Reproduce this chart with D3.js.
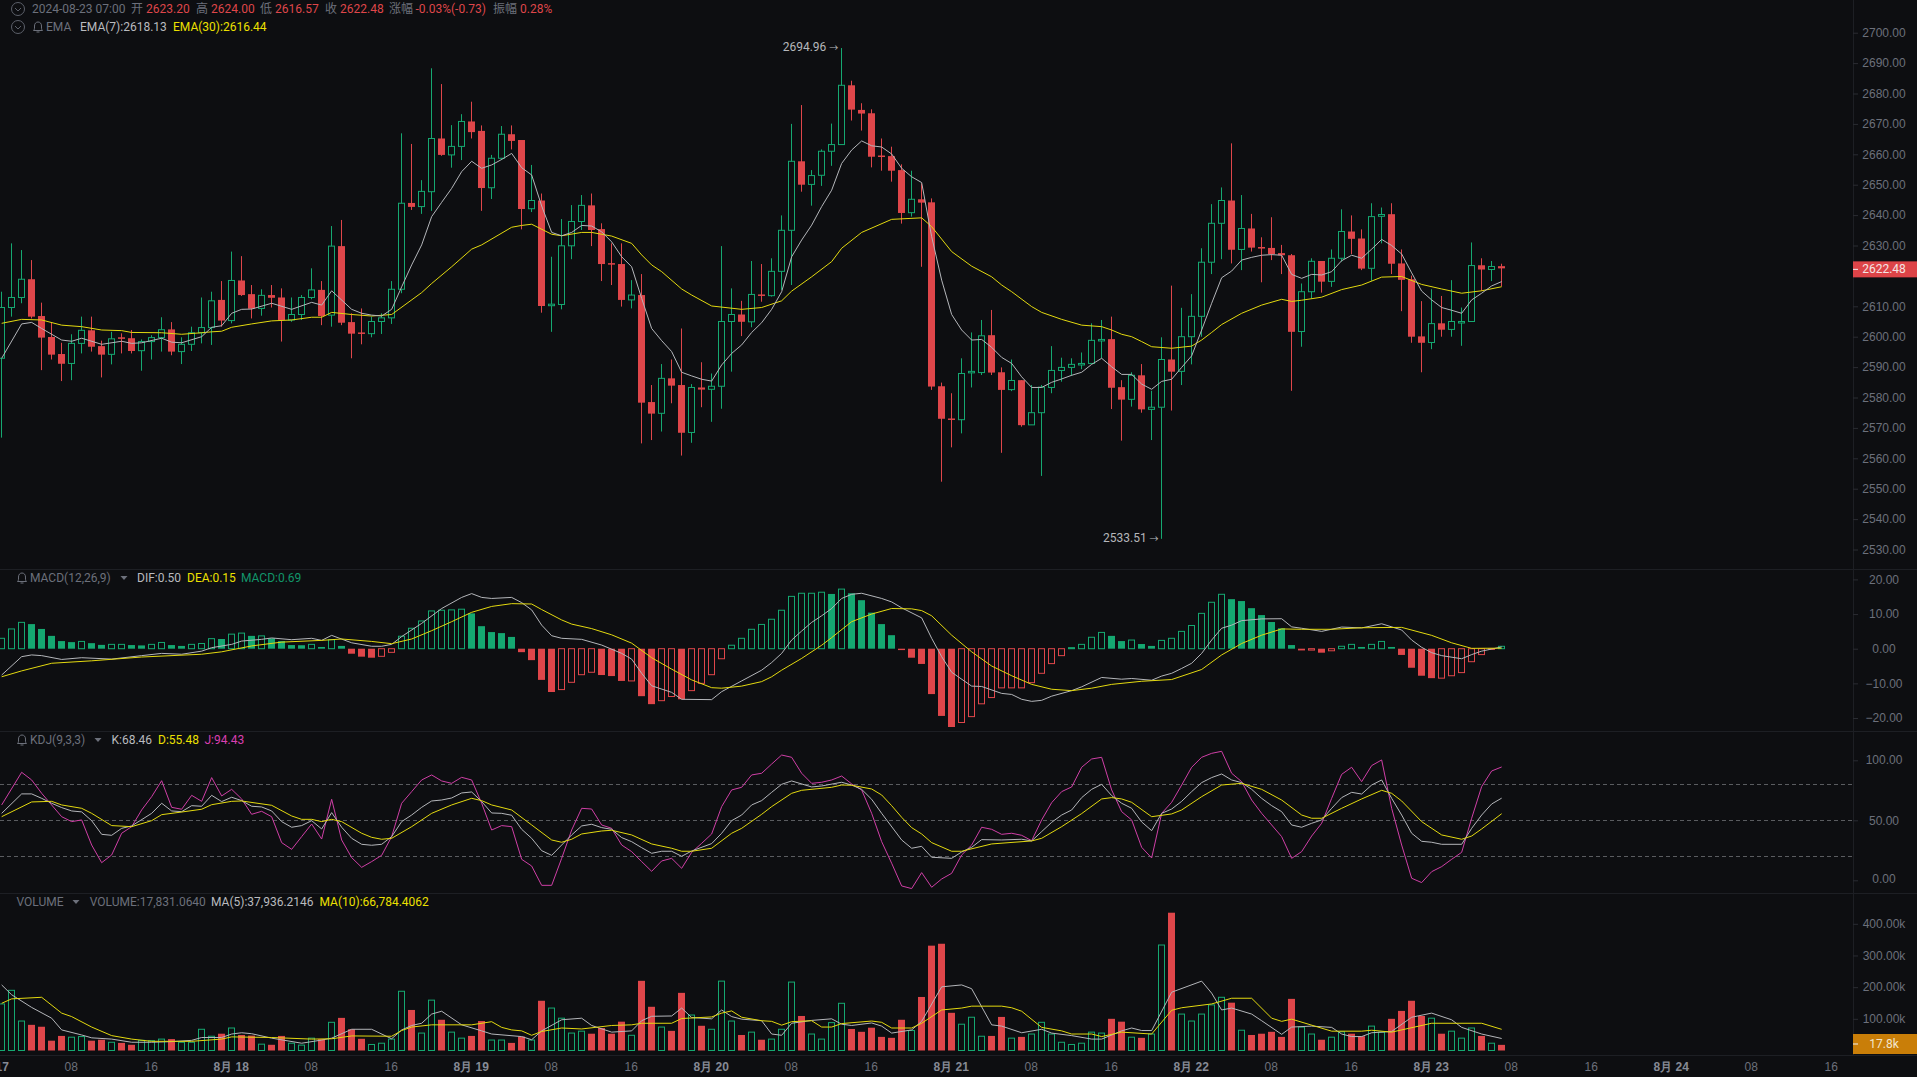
<!DOCTYPE html>
<html>
<head>
<meta charset="utf-8">
<script src="https://cdn.jsdelivr.net/npm/d3@7"></script>
<style>
  html, body { margin: 0; padding: 0; background: #0d0e11; overflow: hidden; }
  svg { display: block; font-family: Roboto, "Noto Sans CJK SC", sans-serif; font-size: 12px; }
  .axis path { display: none; }
  .axis line { stroke: #2a2c32; }
  .axis text { fill: #6c707b; font-size: 12px; }
</style>
</head>
<body>
<svg id="chart" width="1917" height="1077"></svg>
<script>
// hourly candles, index 0 = 2024-08-17 01:00, index 150 = 2024-08-23 07:00
const opens = [2592.9,2609.6,2612.9,2618.9,2606.8,2599.9,2594.3,2591.2,2597.8,2602.1,2596.9,2594.2,2599.8,2599.5,2595.4,2598.4,2599.7,2602.4,2595.1,2597.5,2601.3,2603.0,2612.1,2605.3,2618.5,2614.0,2609.3,2613.7,2612.9,2605.5,2607.3,2612.9,2615.4,2607.1,2629.8,2604.8,2601.4,2601.0,2605.0,2606.2,2615.6,2644.0,2642.8,2647.7,2665.2,2659.8,2662.6,2670.8,2667.7,2649.0,2658.7,2666.6,2664.7,2642.1,2644.8,2610.2,2610.6,2629.9,2637.9,2643.2,2635.4,2624.2,2623.9,2612.1,2613.7,2578.5,2574.8,2586.3,2584.1,2568.5,2583.3,2582.7,2583.7,2605.0,2607.3,2604.9,2613.9,2613.5,2621.5,2635.0,2657.7,2650.1,2653.1,2661.0,2663.2,2682.7,2674.6,2673.5,2659.6,2659.4,2654.8,2640.8,2645.2,2644.2,2583.7,2573.1,2572.7,2588.3,2588.2,2600.5,2588.3,2582.6,2585.7,2571.0,2575.0,2583.3,2588.9,2589.9,2590.8,2591.2,2598.7,2599.2,2583.4,2579.4,2587.3,2576.1,2576.8,2592.5,2588.6,2600.0,2606.7,2624.5,2637.3,2644.8,2628.7,2635.6,2629.5,2629.2,2627.5,2626.8,2601.7,2614.8,2624.9,2618.2,2625.8,2634.6,2632.3,2622.5,2639.6,2640.3,2624.1,2618.9,2600.1,2598.1,2604.4,2602.4,2604.6,2605.0,2623.5,2622.1,2623.20];
const highs = [2614.8,2630.7,2628.5,2625.2,2611.2,2604.6,2598.0,2600.8,2606.6,2606.6,2598.7,2601.6,2601.1,2602.2,2599.1,2600.5,2606.4,2604.8,2599.8,2603.3,2612.9,2614.8,2618.3,2628.0,2626.5,2617.0,2615.6,2617.0,2615.9,2612.9,2613.7,2622.5,2618.3,2636.4,2638.4,2607.7,2609.3,2606.6,2607.7,2618.3,2666.9,2663.4,2651.5,2688.3,2683.1,2669.6,2673.2,2677.3,2669.5,2659.8,2669.3,2669.5,2664.7,2656.5,2647.1,2626.3,2638.7,2643.3,2646.6,2647.1,2637.3,2630.7,2630.7,2618.6,2620.6,2584.1,2591.0,2592.5,2602.7,2584.4,2591.6,2587.9,2629.8,2615.9,2611.8,2624.9,2623.9,2625.8,2639.9,2670.0,2676.2,2654.8,2661.6,2670.1,2694.96,2684.2,2676.8,2674.8,2665.2,2662.5,2656.7,2654.6,2650.4,2645.5,2584.9,2581.4,2592.9,2601.4,2605.5,2608.8,2589.9,2592.5,2585.7,2584.1,2584.1,2596.9,2593.1,2592.9,2594.8,2604.4,2605.5,2606.6,2585.7,2588.3,2591.0,2582.2,2599.8,2616.8,2609.5,2614.0,2629.1,2643.6,2649.1,2663.6,2646.6,2640.4,2632.7,2639.3,2630.2,2627.2,2617.5,2625.8,2624.9,2628.7,2641.9,2639.9,2635.3,2643.9,2642.5,2643.9,2628.7,2620.1,2611.7,2615.6,2613.4,2618.6,2609.6,2631.0,2625.8,2624.9,2624.00];
const lows = [2566.8,2606.6,2611.0,2606.0,2589.0,2592.5,2585.4,2585.7,2594.5,2595.1,2586.6,2590.9,2594.5,2594.5,2588.8,2592.5,2595.1,2593.9,2591.0,2595.3,2597.8,2597.3,2603.3,2604.4,2613.4,2606.0,2606.9,2609.6,2598.4,2604.9,2605.5,2612.3,2603.8,2603.3,2603.8,2592.9,2597.5,2599.8,2600.9,2604.2,2614.3,2641.7,2640.4,2641.4,2659.5,2655.6,2658.1,2665.2,2641.4,2645.3,2658.1,2661.6,2635.3,2641.0,2607.9,2601.6,2609.0,2625.5,2635.1,2629.8,2618.3,2617.0,2609.9,2609.3,2564.9,2566.0,2568.8,2578.1,2560.9,2565.1,2576.8,2572.0,2576.3,2588.5,2600.2,2603.1,2611.5,2613.2,2615.4,2617.0,2647.7,2643.1,2649.6,2656.2,2663.2,2671.1,2667.8,2655.7,2654.6,2651.0,2637.2,2639.5,2623.0,2582.5,2552.3,2563.6,2568.2,2583.3,2587.4,2587.4,2561.8,2582.1,2570.4,2571.0,2554.2,2581.4,2585.2,2587.1,2589.3,2591.2,2592.9,2576.2,2565.8,2577.0,2575.0,2566.0,2533.51,2575.7,2584.1,2590.9,2600.0,2620.6,2625.5,2624.1,2621.9,2628.0,2617.9,2625.2,2620.6,2582.2,2596.7,2612.6,2614.5,2616.4,2624.7,2627.2,2621.9,2618.4,2630.7,2620.6,2608.4,2598.0,2588.3,2595.9,2600.0,2600.0,2597.0,2605.0,2615.1,2618.3,2616.57];
const closes = [2609.6,2612.9,2618.9,2606.6,2599.7,2594.1,2591.1,2597.8,2602.1,2596.7,2594.1,2599.3,2599.3,2595.3,2598.4,2599.7,2602.3,2595.1,2597.5,2601.3,2603.0,2611.8,2605.3,2618.5,2613.7,2609.2,2613.6,2612.8,2605.5,2607.3,2612.9,2615.4,2606.8,2629.8,2604.6,2601.0,2601.0,2605.0,2606.2,2615.6,2643.9,2642.7,2647.8,2665.2,2659.8,2662.6,2670.8,2667.3,2648.9,2658.7,2666.6,2664.4,2642.0,2644.8,2610.1,2610.7,2629.9,2637.9,2643.2,2635.1,2623.9,2623.7,2612.1,2613.7,2578.3,2574.7,2586.3,2583.9,2568.4,2583.3,2582.6,2583.7,2605.0,2607.3,2604.9,2613.9,2613.5,2621.5,2635.0,2657.7,2650.0,2653.0,2661.0,2663.2,2682.7,2674.7,2673.4,2659.2,2659.2,2654.6,2640.7,2645.2,2644.1,2583.6,2573.0,2572.7,2587.9,2588.6,2600.3,2588.2,2582.5,2585.6,2570.9,2575.0,2583.4,2588.9,2589.9,2590.9,2591.2,2598.8,2599.1,2583.2,2579.3,2587.3,2576.1,2576.8,2592.5,2588.5,2600.0,2606.7,2624.5,2637.3,2644.8,2628.6,2635.6,2629.3,2629.0,2627.2,2626.8,2601.6,2614.8,2624.8,2618.1,2625.8,2634.6,2632.2,2622.4,2639.5,2640.2,2624.0,2618.7,2600.0,2598.0,2604.3,2602.3,2605.0,2605.0,2623.4,2622.1,2623.1,2622.48];
const volumes = [147,190,93,81,75,31,46,42,44,31,34,26,24,18,32,31,36,36,26,26,67,45,53,71,49,47,20,18,46,23,17,39,36,89,103,67,37,19,23,36,187,128,55,159,97,58,39,46,93,33,33,24,44,33,157,134,102,55,61,53,71,53,91,48,220,138,74,62,182,112,78,67,219,93,49,58,34,36,67,216,109,52,36,88,149,68,59,72,43,40,97,63,169,331,337,119,83,105,45,46,106,39,43,52,89,52,26,19,23,58,55,100,91,42,40,52,333,435,115,93,115,144,168,151,64,49,53,59,43,163,74,52,34,42,59,53,45,77,58,100,125,157,109,102,53,61,39,71,46,23,17.8];
const macdBars = [3.0,5.7,7.6,7.1,5.7,3.7,2.2,1.9,2.1,1.6,1.1,1.25,1.25,1.05,0.95,1.25,1.8,1.05,0.8,1.25,1.5,2.9,2.8,4.2,4.5,3.7,3.7,3.0,2.2,1.05,1.0,1.25,0.5,2.6,0.8,-1.45,-2.3,-2.6,-2.2,-1.05,3.6,5.9,8.0,10.9,11.1,11.2,11.4,10.2,6.5,4.8,4.5,3.4,-1.0,-3.3,-9.0,-12.5,-11.8,-9.7,-7.5,-6.8,-7.6,-7.9,-9.3,-9.3,-13.7,-16,-15,-13.8,-14.6,-12.1,-10,-7.5,-2.9,1.0,3.0,5.6,7.0,8.5,11.1,15.1,16,16,16.3,15.8,17.2,16,14,10.4,7.1,3.9,-0.4,-2.6,-4.4,-13.1,-19.4,-22.6,-21.3,-19.6,-15.9,-14.1,-11.3,-11.3,-11.3,-9.8,-7.1,-4.3,-2,0.3,1.25,3.3,4.7,3.7,2.2,2.5,1.35,0.8,2.4,3.0,5,6.7,10.2,13.4,15.7,14.3,13.75,11.7,9.7,7.7,5.9,1.05,-0.5,-0.4,-1.15,-0.6,0.7,1.25,0.5,1.25,2.1,0.5,-1.8,-5.5,-7.8,-8.5,-8.5,-7.8,-6.9,-3.75,-1.7,-0.2,0.69];

// line series, read at their vertices as [hour index, value]
const ema7 = [[0,2592.9],[2,2604.2],[3,2604.7],[4,2602.7],[6,2598.9],[7,2598.5],[8,2599.5],[10,2597.5],[12,2598.5],[13,2597.8],[14,2598],[16,2599.5],[17,2598.2],[18,2598],[20,2600],[21,2603.1],[22,2603.6],[23,2607.7],[24,2609],[25,2609.1],[27,2611],[29,2609],[31,2611.3],[32,2610.4],[33,2615.1],[35,2609],[36,2607.7],[37,2607.1],[38,2606.8],[39,2609],[40,2616.4],[41,2623.6],[42,2630.2],[43,2639.5],[44,2644.2],[45,2648.8],[46,2654.3],[47,2657.7],[48,2655.4],[49,2656.5],[50,2658.3],[51,2660.3],[52,2655.6],[53,2653.2],[54,2643],[55,2634.3],[56,2633.2],[57,2634.3],[58,2636.6],[59,2636.4],[60,2634.5],[61,2631.2],[62,2626.3],[63,2623],[64,2612.6],[65,2602.7],[66,2598.7],[67,2595.1],[68,2588.3],[69,2587.1],[70,2586],[71,2585.4],[72,2590.7],[73,2594.5],[74,2597.3],[75,2601.4],[76,2604.6],[77,2609],[78,2614.8],[79,2626.3],[80,2631.8],[81,2636.7],[82,2642.8],[83,2648.2],[84,2657],[85,2661.4],[86,2664.4],[87,2662.8],[88,2662.4],[89,2660.1],[90,2655.4],[91,2652.6],[92,2650.7],[93,2632.9],[94,2618.6],[95,2607.3],[96,2602.2],[97,2598.9],[98,2599.1],[99,2596.5],[100,2593.2],[101,2591.2],[102,2586.8],[103,2583.3],[104,2583.3],[105,2585],[106,2586.1],[107,2587.3],[108,2588.3],[109,2590.9],[110,2592.9],[111,2590.1],[112,2587.6],[113,2587.6],[114,2584.4],[115,2582.7],[116,2585.3],[117,2586],[118,2589.9],[119,2593.7],[120,2602.2],[121,2611],[122,2619.4],[123,2621.6],[124,2625.2],[125,2626.1],[126,2626.8],[127,2627],[128,2626.8],[129,2620.5],[130,2619.2],[131,2620.5],[132,2620.3],[133,2621.4],[134,2625],[135,2626.8],[136,2625.8],[137,2628.8],[138,2632],[139,2630],[140,2627.2],[141,2621],[142,2615],[143,2612.1],[144,2609.6],[145,2608.7],[146,2607.7],[147,2612.1],[148,2614.3],[149,2616.7],[150,2618.13]];
const ema30 = [[0,2604.4],[2,2605.7],[4,2605.5],[6,2603.8],[8,2603.3],[10,2602.2],[12,2602],[13,2601.4],[16,2601.3],[18,2600.8],[20,2601.3],[21,2601.6],[22,2601.8],[23,2603.1],[25,2604.2],[27,2605.2],[29,2605.5],[31,2606.4],[32,2606.4],[33,2608],[35,2607.3],[37,2606.8],[39,2607.3],[42,2614.5],[43,2617.5],[45,2623],[47,2628.8],[48,2630.2],[51,2636],[52,2636.6],[53,2637],[55,2633.7],[56,2633.2],[58,2634.3],[59,2634.3],[61,2633.1],[63,2630.7],[64,2626.9],[65,2623.6],[66,2621.4],[68,2615.7],[69,2613.7],[71,2610.1],[74,2609],[76,2609.6],[78,2611.8],[79,2615],[81,2619.7],[83,2624.7],[84,2629.1],[86,2634.3],[89,2638.6],[92,2639.1],[93,2636.2],[95,2628],[97,2623.2],[99,2619.7],[100,2617],[101,2614.8],[103,2609.9],[104,2608],[106,2605.7],[108,2603.8],[110,2603.3],[111,2602.2],[112,2600.8],[113,2600],[114,2598.4],[115,2596.7],[117,2596.2],[119,2596.9],[120,2598.9],[121,2601.4],[122,2604],[124,2607.7],[126,2610.4],[128,2612.3],[129,2611.6],[130,2612],[132,2613],[134,2615.5],[136,2617],[138,2619.6],[140,2619.8],[142,2617.2],[144,2615.7],[146,2614.3],[148,2615.1],[150,2616.44]];
const dif = [[0,-7.6],[2,-2.3],[3,-1.8],[4,-2],[6,-3.1],[8,-2.6],[11,-3],[14,-2],[16,-1.35],[18,-1.6],[20,-0.7],[21,0.3],[23,1.25],[24,2.2],[26,2.7],[27,3.1],[29,2.6],[31,3],[32,2.4],[33,3.85],[35,1.7],[37,0.7],[38,0.7],[39,1.25],[40,3.5],[42,7.3],[44,11.6],[46,14.8],[47,15.9],[48,14.8],[49,14.5],[51,14.8],[52,13.3],[53,11.2],[54,6.8],[55,3.75],[56,3],[58,2.7],[60,1.05],[62,-1.35],[63,-3],[64,-7.1],[65,-10.7],[67,-12.6],[68,-14.6],[71,-14.7],[72,-12.4],[74,-9.3],[76,-6.2],[77,-4],[78,-1.35],[79,2.5],[80,5.1],[81,7.6],[82,9.5],[83,11.6],[84,14.5],[85,15.7],[86,16],[88,14.5],[89,13.5],[90,11.8],[92,8.9],[93,3],[94,-2.3],[95,-6.8],[97,-10.8],[98,-10.9],[100,-12.9],[101,-13.2],[102,-14.6],[103,-15.2],[104,-14.9],[105,-13.7],[107,-12.1],[108,-11],[110,-8.3],[112,-8.8],[113,-8.6],[115,-9.1],[116,-7.9],[117,-7.1],[118,-5.7],[119,-4.2],[120,-1.35],[121,2.5],[122,5.9],[123,6.8],[124,8.1],[126,8.6],[128,8.65],[129,6.3],[130,5.9],[132,5],[134,6.25],[136,6],[138,7.2],[140,5.4],[141,2.5],[142,0.4],[143,-1.15],[144,-2],[146,-2.9],[147,-1.7],[148,-0.7],[149,-0.1],[150,0.5]];
const dea = [[0,-8.1],[2,-6.4],[5,-4.2],[9,-3.5],[14,-2.4],[20,-1.6],[22,-0.9],[25,0.8],[28,1.9],[32,2.4],[34,2.8],[37,2.1],[39,1.45],[41,2.8],[43,5.2],[45,7.8],[47,10.5],[49,12.2],[51,13],[53,12.9],[54,11.3],[56,8.3],[57,7.1],[59,5.8],[61,4],[63,1.6],[65,-2.6],[67,-5.9],[69,-9],[71,-11.25],[72,-11.4],[74,-10.8],[76,-9.5],[77,-8.1],[78,-6.2],[80,-2.8],[82,1],[83,3.2],[85,7.8],[87,10],[89,11.6],[91,11.5],[92,11],[93,9.5],[95,3.9],[97,-0.9],[99,-5],[101,-7.8],[103,-10.3],[105,-11.7],[107,-12.1],[109,-11.4],[111,-10.3],[114,-9.4],[117,-8.9],[120,-6],[122,-1.8],[124,1.5],[126,3.9],[128,5.7],[130,5.6],[133,5.6],[136,6.05],[140,6.15],[143,3.85],[145,1.7],[147,0.1],[150,0.15]];
const kLine = [[0,55.8],[2,72],[3,72],[4,68.3],[5,64.2],[6,60.6],[7,57.8],[8,57],[9,49.7],[10,38.3],[11,37.5],[12,43.3],[13,45.3],[15,55.8],[16,64.2],[17,57.8],[18,57.2],[19,62.2],[20,61.7],[21,70.8],[22,65.6],[23,69.2],[24,66.4],[25,61.7],[26,61.1],[27,57.8],[28,48.9],[29,44.2],[30,45.6],[31,49.7],[32,42.8],[33,56.4],[34,44.2],[35,35],[36,30],[37,29.2],[38,30],[39,36.4],[40,48.9],[41,54.4],[42,60.8],[43,66.1],[44,66.9],[45,68.6],[46,72.8],[47,73.6],[48,65.6],[49,56.1],[50,55.8],[51,54.2],[52,42.5],[53,35],[54,24.7],[55,20.8],[56,29.4],[57,37.8],[58,45.3],[59,46.7],[60,43.9],[61,42.5],[62,35.6],[63,32.2],[64,27.2],[65,22.5],[66,24.2],[67,24.2],[68,20],[69,24.4],[71,30.6],[72,39.2],[73,49.7],[74,54.4],[75,62.8],[76,66.4],[77,73.3],[78,80],[79,82.8],[81,77.8],[82,78.6],[84,81.7],[85,79.4],[86,75.8],[87,67.5],[88,55.8],[90,33.6],[91,26.7],[92,28.3],[93,19.2],[95,18.3],[96,23.6],[97,27.5],[98,33.9],[100,33.6],[102,34.2],[103,32.8],[104,40.6],[105,48.3],[106,54.4],[107,58.6],[108,68.9],[109,75.8],[110,80],[111,70.6],[112,64.2],[113,60],[114,48.6],[115,41.4],[116,55.8],[117,59.4],[118,65.8],[119,73.9],[120,81.4],[121,85.6],[122,88.6],[123,83.6],[124,81.4],[125,75.8],[126,68.3],[127,62.2],[128,57.2],[129,46.1],[130,44.2],[131,47.5],[132,50.3],[133,60],[134,68.9],[135,73.3],[136,71.9],[137,79.4],[138,83.6],[139,68.3],[140,54.4],[141,39.2],[142,32.5],[143,31.7],[144,30],[146,30],[147,43.3],[148,54.4],[149,63.6],[150,68.46]];
const dLine = [[0,53],[3,65.3],[5,65.8],[6,62.8],[8,60],[9,55.8],[11,45.6],[13,44.7],[15,49.7],[16,54.7],[18,56.9],[20,59.2],[21,63],[23,65.8],[24,66.1],[27,62.5],[29,53.6],[30,50.8],[31,50.8],[32,48.9],[33,50.8],[34,48.9],[36,39.2],[37,35.8],[38,34.2],[39,35],[41,44.7],[43,55.8],[45,62.8],[47,68.3],[48,66.4],[49,62.8],[51,58.6],[53,46.1],[55,33.6],[56,31.7],[57,34.2],[58,38.6],[60,41.1],[61,41.7],[63,37.8],[65,30.3],[67,26.7],[68,24.2],[69,24.2],[71,26.7],[73,39.2],[74,43.3],[76,55],[77,61.4],[79,72.5],[80,75],[83,77.5],[84,79.4],[85,79.2],[87,76.1],[88,71.1],[89,62.2],[90,52.5],[91,43.9],[92,38.6],[93,31.4],[95,24.2],[96,24.2],[99,30.3],[103,32.8],[104,35],[106,44.7],[108,55.6],[110,67.8],[111,68.9],[112,67.8],[113,65],[115,53],[117,55.3],[118,58.6],[120,69.7],[122,79.4],[124,80.8],[126,75.8],[128,66.9],[130,54.4],[131,51.7],[132,51.7],[134,60],[136,67.8],[138,75],[139,72.5],[140,66.1],[142,48.9],[144,37.8],[146,34.2],[147,36.9],[148,42.8],[150,55.48]];
const jLine = [[0,62.8],[2,90],[3,83.6],[4,72.5],[6,53],[7,48.9],[8,50.3],[9,29.4],[10,14.7],[11,21.1],[12,39.2],[13,44.7],[14,58.6],[15,69.7],[16,83],[17,60.8],[18,59.2],[19,70.8],[20,65.8],[21,85.6],[22,70.3],[23,75.8],[24,67.8],[25,55],[26,57.5],[27,53],[28,31.4],[29,25.8],[30,36.4],[31,46.9],[32,34.4],[33,67.5],[34,33.6],[35,18.9],[36,10.8],[37,15.6],[38,20.8],[39,36.4],[40,64.2],[41,73.9],[42,83.6],[43,87.8],[44,82.8],[45,80.8],[46,85.8],[47,83.6],[48,64.2],[49,41.9],[50,45.6],[51,44.7],[52,17.5],[53,11.9],[54,-4.2],[55,-4.2],[56,18.3],[57,41.9],[58,60],[59,59.4],[60,46.1],[61,43.3],[62,29.4],[63,23.9],[64,15.6],[65,7.5],[66,16.1],[67,18.3],[68,10],[69,23.3],[70,30.8],[71,38.6],[72,61.4],[73,75.3],[74,77.5],[75,87.8],[76,89.2],[77,96.9],[78,104.4],[79,102.5],[80,89.2],[81,80.8],[82,81.7],[83,83.6],[84,86.9],[85,80.3],[86,75.3],[87,55.8],[88,32.2],[89,14.2],[90,-4.7],[91,-6.9],[92,6.4],[93,-5.8],[94,1.1],[95,5.8],[96,21.1],[97,29.4],[98,44.2],[99,42.5],[100,38.3],[101,39.2],[102,37.5],[103,33],[104,50.3],[105,64.7],[106,73.9],[107,77.8],[108,94.2],[109,101.1],[110,102.5],[111,75.3],[112,57.2],[113,50.3],[114,27.5],[115,18.6],[116,55.8],[117,65],[118,79.4],[119,94.2],[120,102.5],[121,105.8],[122,107.5],[123,89.2],[124,82.2],[125,66.9],[126,55.8],[127,46.1],[128,36.4],[129,18.3],[130,23.9],[131,36.9],[132,47.5],[133,68.3],[134,88.3],[135,94.2],[136,82.2],[137,95.6],[138,100.3],[139,60],[140,29.4],[141,1.7],[142,-1.9],[143,7.2],[144,11.4],[145,17.5],[146,23.3],[147,51.7],[148,78.1],[149,91.1],[150,94.43]];
const volMa5 = [[0,207],[1,176],[3,136],[5,102],[6,65],[8,49],[9,40],[11,36],[13,26],[15,26],[17,28],[19,32],[20,41],[22,41],[23,52],[24,56],[25,53],[27,39],[30,23],[32,33],[33,39],[35,67],[37,67],[39,37],[40,65],[41,79],[42,86],[43,115],[44,124],[46,81],[48,62],[49,52],[52,44],[53,34],[54,62],[56,97],[58,102],[59,79],[61,58],[63,62],[64,94],[65,108],[67,109],[68,134],[69,104],[71,100],[72,128],[73,107],[74,99],[76,94],[77,52],[78,48],[79,86],[81,95],[83,100],[84,83],[85,79],[87,87],[88,77],[89,55],[91,65],[92,92],[94,201],[96,207],[97,195],[99,81],[100,77],[102,56],[104,67],[105,55],[107,47],[109,36],[110,36],[112,62],[113,71],[114,63],[115,63],[117,184],[120,219],[121,181],[122,128],[123,134],[125,115],[126,94],[128,51],[129,74],[131,77],[133,73],[134,52],[135,44],[136,44],[137,56],[139,60],[141,105],[143,118],[145,97],[146,73],[148,52],[150,37.9]];
const volMa10 = [[0,149],[1,163],[4,168],[6,118],[7,107],[9,74],[11,47],[13,36],[15,29],[19,29],[22,36],[23,43],[27,41],[31,36],[33,37],[35,46],[39,45],[40,63],[41,74],[43,81],[47,81],[49,91],[50,73],[51,65],[52,62],[53,48],[54,60],[56,71],[58,68],[61,79],[63,81],[64,86],[67,86],[68,101],[71,106],[72,118],[73,125],[74,105],[76,94],[77,92],[78,80],[79,91],[81,94],[82,74],[83,74],[84,85],[87,93],[88,89],[89,71],[91,71],[92,86],[94,128],[96,134],[97,140],[100,140],[101,135],[102,124],[104,73],[106,62],[107,52],[109,52],[110,44],[112,58],[115,52],[117,127],[118,135],[121,147],[123,165],[125,165],[127,102],[128,92],[129,99],[133,61],[136,61],[137,64],[139,58],[143,86],[148,86],[150,66.8]];

// axis ticks, 2620 sits under the last price tag
const priceTicks = d3.range(2530, 2701, 10).filter(d => d !== 2620);
const macdTicks = [20, 10, 0, -10, -20];
const kdjTicks = [100, 50, 0];
const kdjGuides = [80, 50, 20];
const volTicks = [400, 300, 200, 100];
const timeTickHours = [-1,7,15,23,31,39,47,55,63,71,79,87,95,103,111,119,127,135,143,151,159,167,175,183];
const timeTickLabels = ['8月 17','08','16','8月 18','08','16','8月 19','08','16','8月 20','08','16','8月 21','08','16','8月 22','08','16','8月 23','08','16','8月 24','08','16'];

const RED = '#df464a', GREEN = '#15a871', WHITE = '#b4b6ba', YELLOW = '#e3d90f', MAGENTA = '#cf3fa6';
const PLOT_W = 1853;

const svg = d3.select('#chart');
const x = d3.scaleLinear().domain([0, 150]).range([1.67, 1501.67]);
const yPrice = d3.scaleLinear().domain([2530, 2700]).range([549.5, 32.7]);
const yMacd = d3.scaleLinear().domain([-20, 20]).range([718, 579.4]);
const yKdj = d3.scaleLinear().domain([0, 100]).range([880.3, 760.3]);
const yVol = d3.scaleLinear().domain([0, 400]).range([1050.5, 923.8]);

// pane borders
const panes = [569, 731, 893, 1055];
svg.selectAll('line.sep').data(panes).join('line').attr('class', 'sep')
  .attr('x1', 0).attr('x2', 1917).attr('y1', d => d + .5).attr('y2', d => d + .5)
  .attr('stroke', '#1d1f24');
svg.append('line').attr('x1', PLOT_W + .5).attr('x2', PLOT_W + .5).attr('y1', 0).attr('y2', 1055).attr('stroke', '#1d1f24');

svg.append('defs').append('clipPath').attr('id', 'plot')
  .append('rect').attr('width', PLOT_W).attr('height', 1077);
const plot = svg.append('g').attr('clip-path', 'url(#plot)');

const indices = d3.range(opens.length);
const px = i => Math.floor(x(i));
const isUp = i => closes[i] >= opens[i];

// candles
const candles = plot.append('g').selectAll('g').data(indices).join('g');
candles.append('line')
  .attr('x1', i => px(i) + .5).attr('x2', i => px(i) + .5)
  .attr('y1', i => yPrice(highs[i])).attr('y2', i => yPrice(lows[i]))
  .attr('stroke', i => isUp(i) ? GREEN : RED);
candles.append('rect')
  .attr('x', i => px(i) - 3 + (isUp(i) ? .5 : 0))
  .attr('width', i => isUp(i) ? 6 : 7)
  .attr('y', i => yPrice(Math.max(opens[i], closes[i])))
  .attr('height', i => Math.max(1.5, Math.abs(yPrice(opens[i]) - yPrice(closes[i]))))
  .attr('fill', i => isUp(i) ? '#0d0e11' : RED)
  .attr('stroke', i => isUp(i) ? GREEN : 'none');

// macd histogram, hollow while rising and solid while falling
plot.append('g').selectAll('rect').data(indices).join('rect')
  .attr('x', i => px(i) - 3 + (macdBars[i] >= (macdBars[i - 1] ?? -99) ? .5 : 0))
  .attr('width', i => macdBars[i] >= (macdBars[i - 1] ?? -99) ? 6 : 7)
  .attr('y', i => Math.min(yMacd(0), yMacd(macdBars[i])))
  .attr('height', i => Math.abs(yMacd(macdBars[i]) - yMacd(0)))
  .attr('fill', i => macdBars[i] >= (macdBars[i - 1] ?? -99) ? 'none' : (macdBars[i] >= 0 ? GREEN : RED))
  .attr('stroke', i => macdBars[i] >= (macdBars[i - 1] ?? -99) ? (macdBars[i] >= 0 ? GREEN : RED) : 'none');

// kdj guides
plot.append('g').selectAll('line').data(kdjGuides).join('line')
  .attr('x1', 0).attr('x2', PLOT_W)
  .attr('y1', d => Math.round(yKdj(d)) + .5).attr('y2', d => Math.round(yKdj(d)) + .5)
  .attr('stroke', '#5a5c60').attr('stroke-dasharray', '4,3');

// volume
plot.append('g').selectAll('rect').data(indices).join('rect')
  .attr('x', i => px(i) - 3 + (isUp(i) ? .5 : 0))
  .attr('width', i => isUp(i) ? 6 : 7)
  .attr('y', i => yVol(volumes[i]))
  .attr('height', i => yVol(0) - yVol(volumes[i]))
  .attr('fill', i => isUp(i) ? 'none' : RED)
  .attr('stroke', i => isUp(i) ? GREEN : 'none');

function addLine(data, yScale, color) {
  const line = d3.line().x(d => x(d[0])).y(d => yScale(d[1]));
  plot.append('path').attr('d', line(data)).attr('fill', 'none').attr('stroke', color).attr('stroke-width', 1);
}
addLine(ema30, yPrice, YELLOW);
addLine(ema7, yPrice, WHITE);
addLine(dif, yMacd, WHITE);
addLine(dea, yMacd, YELLOW);
addLine(jLine, yKdj, MAGENTA);
addLine(kLine, yKdj, WHITE);
addLine(dLine, yKdj, YELLOW);
addLine(volMa5, yVol, WHITE);
addLine(volMa10, yVol, YELLOW);

// right axes
function addRightAxis(scale, ticks, fmt) {
  const g = svg.append('g').attr('class', 'axis')
    .attr('transform', `translate(${PLOT_W},0)`)
    .call(d3.axisRight(scale).tickValues(ticks).tickSize(5).tickFormat(fmt));
  g.selectAll('text').attr('x', 31).attr('text-anchor', 'middle');
  return g;
}
addRightAxis(yPrice, priceTicks, d3.format('.2f'));
addRightAxis(yMacd, macdTicks, d3.format('.2f'));
// labels at the ends of the kdj pane sit slightly higher than their ticks
addRightAxis(yKdj, kdjTicks, d3.format('.2f')).selectAll('text')
  .attr('transform', d => d === 0 ? 'translate(0,-2)' : d === 100 ? 'translate(0,-1)' : null);
addRightAxis(yVol, volTicks, d => d3.format('.2f')(d) + 'k');

// time axis
const timeAxis = svg.append('g').attr('class', 'axis')
  .attr('transform', 'translate(-1,1055)')
  .call(d3.axisBottom(x).tickValues(timeTickHours).tickSize(0)
    .tickFormat((d, i) => timeTickLabels[i]));
timeAxis.selectAll('text').attr('y', 7)
  .style('fill', (d, i) => timeTickLabels[i].length > 2 ? '#868a95' : '#6c707b')
  .attr('font-weight', (d, i) => timeTickLabels[i].length > 2 ? 700 : 400);

// current value tags
function addTag(y0, y1, color, label, labelColor) {
  svg.append('rect').attr('x', PLOT_W).attr('y', y0).attr('width', 1917 - PLOT_W).attr('height', y1 - y0).attr('fill', color);
  svg.append('line').attr('x1', PLOT_W).attr('x2', PLOT_W + 5).attr('y1', (y0 + y1) / 2).attr('y2', (y0 + y1) / 2).attr('stroke', '#f2f2f2');
  svg.append('text').attr('x', PLOT_W + 31).attr('y', (y0 + y1) / 2 + 4).attr('text-anchor', 'middle').attr('fill', labelColor).text(label);
}
addTag(yPrice(closes[150]) - 7, yPrice(closes[150]) + 9, '#dd4448', '2622.48', '#f4e4e4');
addTag(1034, 1054, '#c97e08', '17.8k', '#f3e6cc');

// legend helpers
function legendText(xPos, yPos, str, color) {
  svg.append('text').attr('x', xPos).attr('y', yPos + 4).attr('fill', color).text(str);
}
function bell(cx, cy) {
  svg.append('path')
    .attr('transform', `translate(${cx},${cy})`)
    .attr('d', 'M-4.5,3.5 C-3.2,2.5 -3.5,0 -3.5,-1 C-3.5,-3.5 -2,-5 0,-5 C2,-5 3.5,-3.5 3.5,-1 C3.5,0 3.2,2.5 4.5,3.5 Z M-1.5,5 L1.5,5')
    .attr('fill', 'none').attr('stroke', '#6c707b');
}
function chevronCircle(cx, cy) {
  svg.append('circle').attr('cx', cx).attr('cy', cy).attr('r', 6.5).attr('fill', 'none').attr('stroke', '#5c606a');
  svg.append('path').attr('d', `M${cx - 3},${cy - 1} L${cx},${cy + 2} L${cx + 3},${cy - 1}`).attr('fill', 'none').attr('stroke', '#5c606a');
}
function caret(cx, cy) {
  svg.append('path').attr('d', `M${cx - 3.5},${cy - 2} L${cx + 3.5},${cy - 2} L${cx},${cy + 2} Z`).attr('fill', '#6c707b');
}

const GREY = '#6c707b', LBL_RED = '#df464a', LBL_WHITE = '#b9bbbf', LBL_YELLOW = '#ece000';

chevronCircle(18, 9);
legendText(32, 9, '2024-08-23 07:00', GREY);
legendText(131, 9, '开', GREY);
legendText(146, 9, '2623.20', LBL_RED);
legendText(196, 9, '高', GREY);
legendText(211, 9, '2624.00', LBL_RED);
legendText(260, 9, '低', GREY);
legendText(275, 9, '2616.57', LBL_RED);
legendText(325, 9, '收', GREY);
legendText(340, 9, '2622.48', LBL_RED);
legendText(389, 9, '涨幅', GREY);
legendText(415.5, 9, '-0.03%(-0.73)', LBL_RED);
legendText(493, 9, '振幅', GREY);
legendText(520, 9, '0.28%', LBL_RED);

chevronCircle(18, 27);
bell(38, 27);
legendText(46, 27, 'EMA', GREY);
legendText(80, 27, 'EMA(7):2618.13', LBL_WHITE);
legendText(173, 27, 'EMA(30):2616.44', LBL_YELLOW);

bell(22, 578);
legendText(30, 578, 'MACD(12,26,9)', GREY);
caret(124, 578);
legendText(137, 578, 'DIF:0.50', LBL_WHITE);
legendText(187, 578, 'DEA:0.15', LBL_YELLOW);
legendText(241, 578, 'MACD:0.69', '#12966a');

bell(22, 740);
legendText(30, 740, 'KDJ(9,3,3)', GREY);
caret(98, 740);
legendText(111.5, 740, 'K:68.46', LBL_WHITE);
legendText(158, 740, 'D:55.48', LBL_YELLOW);
legendText(204.5, 740, 'J:94.43', '#d93fb0');

legendText(16.5, 902, 'VOLUME', GREY);
caret(76, 902);
legendText(89.7, 902, 'VOLUME:17,831.0640', GREY);
legendText(211, 902, 'MA(5):37,936.2146', LBL_WHITE);
legendText(319.5, 902, 'MA(10):66,784.4062', LBL_YELLOW);

// extreme markers, the arrow glyph runs wide so it is set smaller
function addMarker(xStart, value, label) {
  const t = svg.append('text').attr('x', xStart).attr('y', yPrice(value) + 3).attr('fill', '#b5b7bb');
  t.append('tspan').text(label + ' ');
  t.append('tspan').attr('font-size', 9).text('→');
}
addMarker(782.7, 2694.96, '2694.96');
addMarker(1103, 2533.51, '2533.51');
</script>
</body>
</html>
